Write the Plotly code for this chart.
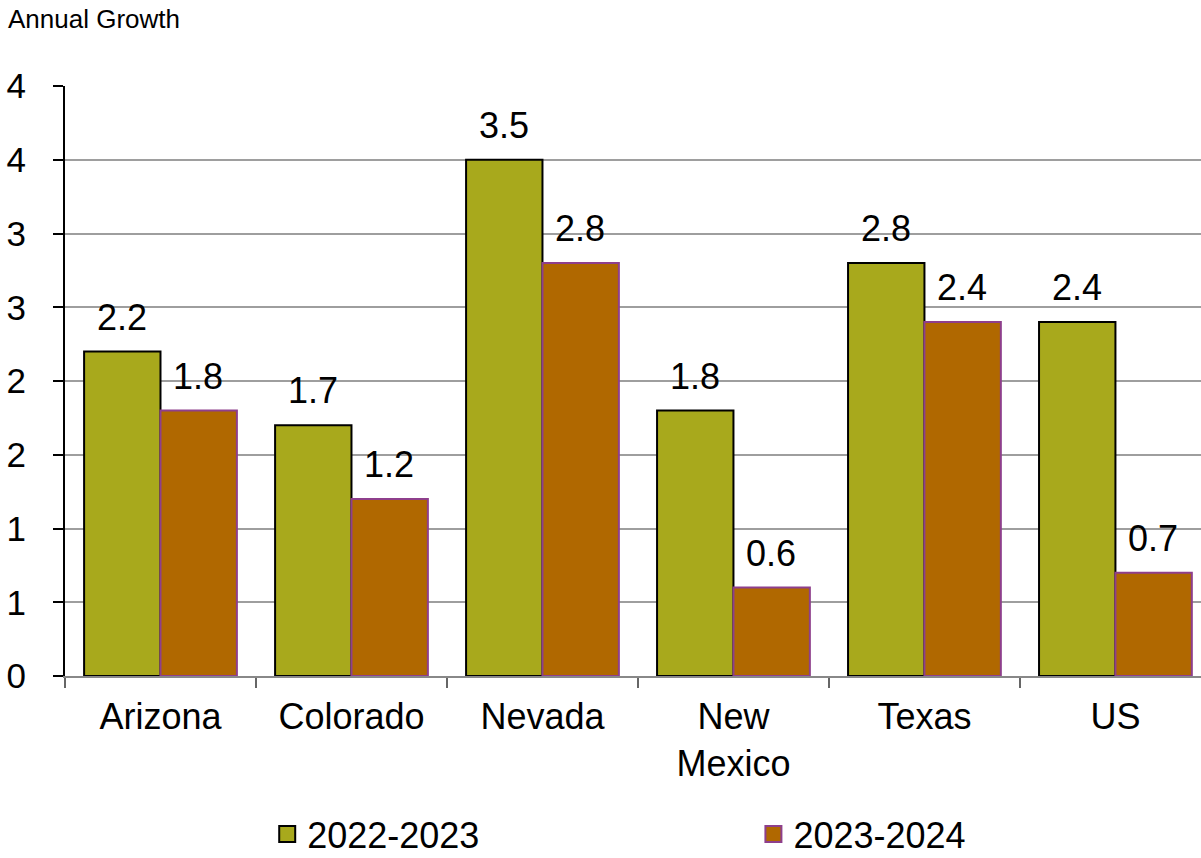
import plotly.graph_objects as go

# Annual growth by state, two periods
categories = ["Arizona", "Colorado", "Nevada", "New<br>Mexico", "Texas", "US"]
growth_2022_2023 = [2.2, 1.7, 3.5, 1.8, 2.8, 2.4]
growth_2023_2024 = [1.8, 1.2, 2.8, 0.6, 2.4, 0.7]
series_names = ["2022-2023", "2023-2024"]

y_tickvals = [0, 0.5, 1, 1.5, 2, 2.5, 3, 3.5, 4]
y_ticktext = ["0", "1", "1", "2", "2", "3", "3", "4", "4"]

FONT = "Liberation Sans, Arial, sans-serif"
GREEN = "#A8A91C"
ORANGE = "#B06800"
PURPLE = "#8E3F8C"

fig = go.Figure()

fig.add_trace(go.Bar(
    x=categories, y=growth_2022_2023, name=series_names[0],
    marker=dict(color=GREEN, line=dict(color="black", width=2)),
    showlegend=False,
))
fig.add_trace(go.Bar(
    x=categories, y=growth_2023_2024, name=series_names[1],
    marker=dict(color=ORANGE, line=dict(color=PURPLE, width=2)),
    showlegend=False,
))

# Legend entries with larger square swatches, one legend box per series
fig.add_trace(go.Scatter(
    x=[None], y=[None], mode="markers", name=series_names[0], legend="legend",
    marker=dict(symbol="square", size=19, color=GREEN, line=dict(color="black", width=2)),
))
fig.add_trace(go.Scatter(
    x=[None], y=[None], mode="markers", name=series_names[1], legend="legend2",
    marker=dict(symbol="square", size=19, color=ORANGE, line=dict(color=PURPLE, width=2)),
))

# Value labels above each bar
label_font = dict(family=FONT, size=36, color="black")
annotations = []
for cat, v in zip(categories, growth_2022_2023):
    annotations.append(dict(x=cat, y=v, xref="x", yref="y", text=f"{v:.1f}",
                            showarrow=False, xshift=-38, yshift=12, yanchor="bottom",
                            font=label_font))
for cat, v in zip(categories, growth_2023_2024):
    annotations.append(dict(x=cat, y=v, xref="x", yref="y", text=f"{v:.1f}",
                            showarrow=False, xshift=38, yshift=12, yanchor="bottom",
                            font=label_font))

annotations.append(dict(x=0, y=1, xref="paper", yref="paper", xanchor="left", yanchor="top",
                        text="Annual Growth", showarrow=False, align="left",
                        xshift=-59, yshift=84,
                        font=dict(family=FONT, size=26, color="black")))

legend_common = dict(orientation="h", y=-0.268, yanchor="middle", xanchor="left",
                     font=dict(family=FONT, size=36, color="black"),
                     itemsizing="trace", bgcolor="rgba(0,0,0,0)")

fig.update_layout(
    width=1201, height=858,
    margin=dict(l=65, r=0, t=86, b=182, autoexpand=False),
    paper_bgcolor="white", plot_bgcolor="white",
    barmode="group", bargap=0.2, bargroupgap=0,
    font=dict(family=FONT, size=36, color="black"),
    annotations=annotations,
    legend=dict(x=0.178, **legend_common),
    legend2=dict(x=0.606, **legend_common),
)

fig.update_xaxes(
    range=[-0.5, 5.448],
    showline=True, linecolor="#888888", linewidth=2,
    ticks="outside", tickson="boundaries", ticklen=10, tickwidth=1.5, tickcolor="#666666",
    ticklabelstandoff=8,
    tickfont=dict(family=FONT, size=36, color="black"),
    showgrid=False, zeroline=False,
)
fig.update_yaxes(
    range=[0, 4],
    tickvals=y_tickvals, ticktext=y_ticktext,
    showline=True, linecolor="black", linewidth=2,
    ticks="outside", ticklen=10, tickwidth=2, tickcolor="black",
    ticklabelstandoff=20,
    tickfont=dict(family=FONT, size=35, color="black"),
    showgrid=True, gridcolor="#9E9E9E", gridwidth=2,
    zeroline=False,
)

fig.write_html("out.html")
